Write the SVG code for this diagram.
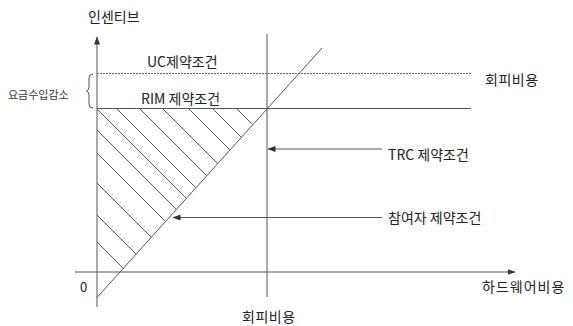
<svg xmlns="http://www.w3.org/2000/svg" width="573" height="326" viewBox="0 0 573 326">
<style>
text{font-family:"Noto Sans CJK KR","Noto Sans",sans-serif;fill:#222;font-size:14px}
text.sm{font-size:11px;fill:#333}
text.zero{font-size:13px}
.ln{stroke:#555;stroke-width:1;fill:none}
.h{stroke:#555;stroke-width:1}
.dash{stroke:#666;stroke-width:1;stroke-dasharray:2 1;fill:none}
</style>
<defs>
<marker id="ah" viewBox="0 0 8 6" refX="7.5" refY="3" markerWidth="8" markerHeight="6" markerUnits="userSpaceOnUse" orient="auto">
<path d="M0,0 L8,3 L0,6 Z" fill="#333"/>
</marker>
</defs>
<rect width="573" height="326" fill="#fff"/>
<g id="axes">
<line class="ln" x1="97" y1="307" x2="97" y2="37" marker-end="url(#ah)"/>
<line class="ln" x1="75" y1="272" x2="515" y2="272" marker-end="url(#ah)"/>
<text class="zero" x="80" y="292">0</text>
<text x="88" y="22">인센티브</text>
<text x="482" y="292" letter-spacing="1">하드웨어비용</text>
</g>
<g id="constraints">
<line class="dash" x1="97" y1="73.5" x2="471" y2="73.5"/>
<line class="ln" x1="97" y1="108.5" x2="471" y2="108.5"/>
<line class="ln" x1="267" y1="34" x2="267" y2="297"/>
<line class="ln" x1="97" y1="297.5" x2="322" y2="48"/>
<text x="147" y="67">UC제약조건</text>
<text x="141" y="104">RIM 제약조건</text>
<text x="485" y="85" letter-spacing="0.5">회피비용</text>
<text x="242" y="322" letter-spacing="0.5">회피비용</text>
</g>
<g id="hatch">
<line class="h" x1="97" y1="109" x2="186.2" y2="198.2"/>
<line class="h" x1="117" y1="109" x2="195.6" y2="187.6"/>
<line class="h" x1="140" y1="109" x2="206.5" y2="175.5"/>
<line class="h" x1="163" y1="109" x2="217.4" y2="163.4"/>
<line class="h" x1="189" y1="109" x2="229.7" y2="149.7"/>
<line class="h" x1="213" y1="109" x2="241" y2="137"/>
<line class="h" x1="237" y1="109" x2="252.4" y2="124.4"/>
<line class="h" x1="97" y1="130" x2="176.2" y2="209.2"/>
<line class="h" x1="97" y1="153" x2="165.4" y2="221.4"/>
<line class="h" x1="97" y1="183" x2="151.2" y2="237.2"/>
<line class="h" x1="97" y1="215" x2="136.1" y2="254.1"/>
<line class="h" x1="97" y1="242" x2="123.3" y2="268.3"/>
</g>
<g id="brace">
<path class="ln" d="M93,74 Q89,74 89,78 L89,87 Q89,90.5 86.5,91 Q89,91.5 89,95 L89,104 Q89,108 93,108"/>
<text class="sm" x="8" y="99">요금수입감소</text>
</g>
<g id="connectors">
<line class="ln" x1="382" y1="149" x2="268" y2="149" marker-end="url(#ah)"/>
<line class="ln" x1="382" y1="217.5" x2="173" y2="217.5" marker-end="url(#ah)"/>
</g>
<g id="labels">
<text x="388" y="160">TRC 제약조건</text>
<text x="388" y="223">참여자 제약조건</text>
</g>
</svg>
